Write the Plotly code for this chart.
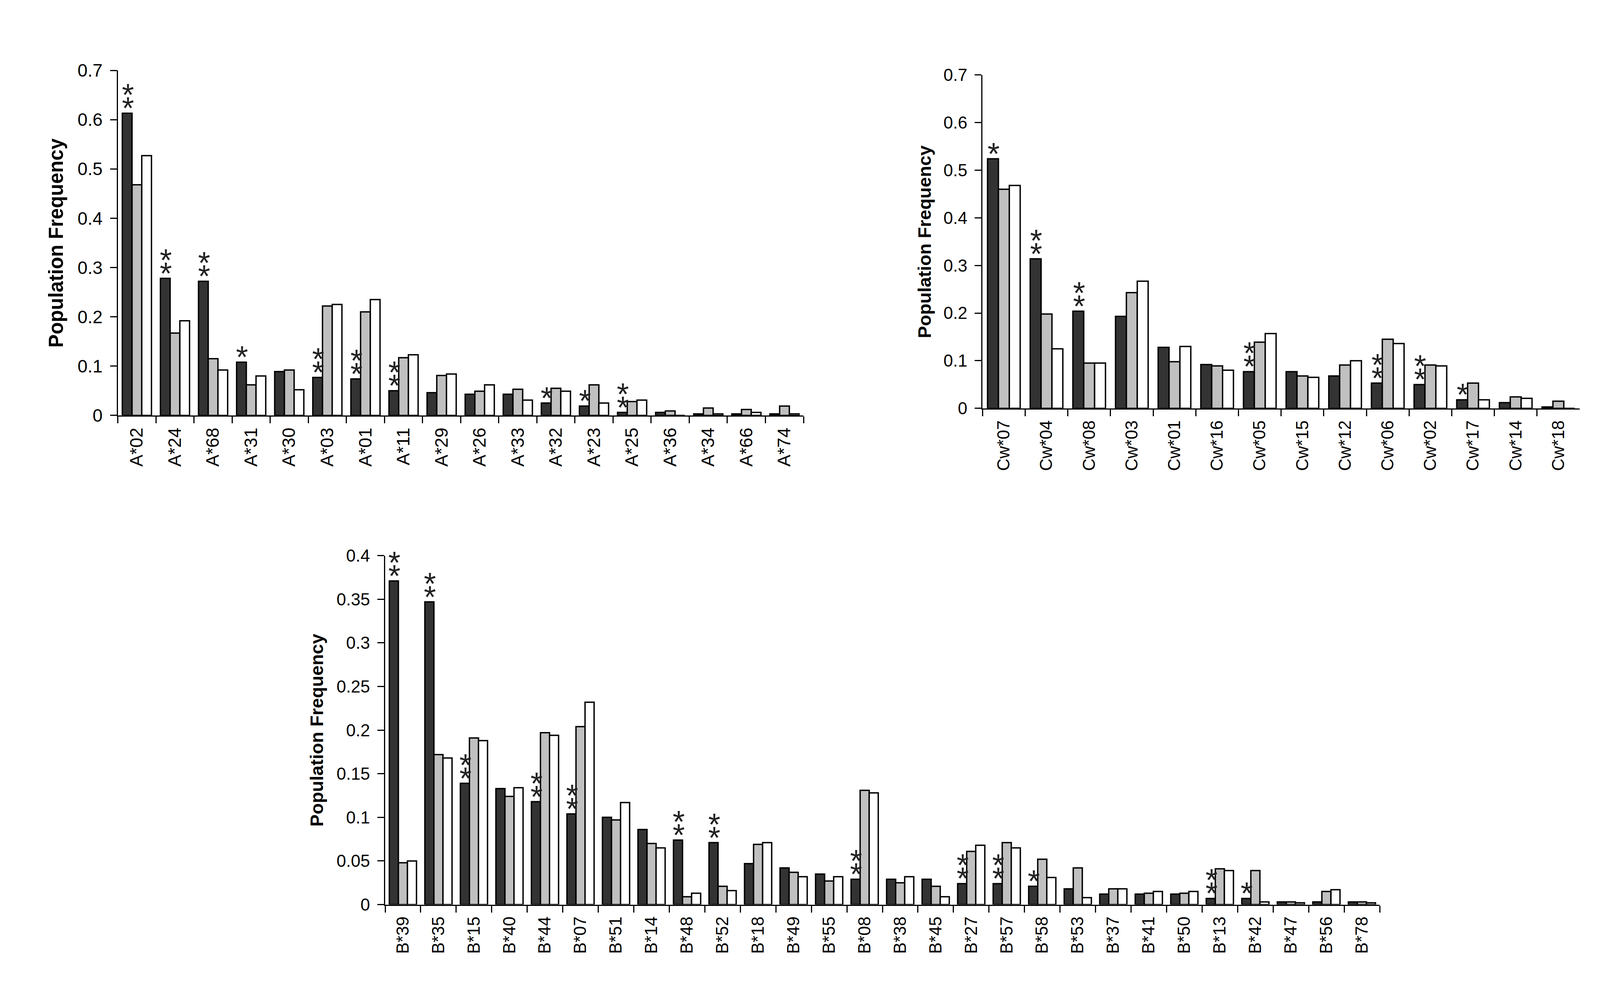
#!/usr/bin/env python3

import plotly.graph_objects as go

# HLA-A allele frequencies (three populations: dark, grey, white bars)
a_alleles = ["A*02", "A*24", "A*68", "A*31", "A*30", "A*03", "A*01", "A*11", "A*29",
             "A*26", "A*33", "A*32", "A*23", "A*25", "A*36", "A*34", "A*66", "A*74"]
a_pop1 = [0.613, 0.278, 0.272, 0.108, 0.089, 0.077, 0.074, 0.050, 0.046,
          0.043, 0.043, 0.025, 0.019, 0.006, 0.006, 0.003, 0.003, 0.003]
a_pop2 = [0.468, 0.167, 0.115, 0.062, 0.092, 0.222, 0.210, 0.117, 0.081,
          0.049, 0.053, 0.055, 0.062, 0.028, 0.009, 0.015, 0.012, 0.019]
a_pop3 = [0.527, 0.192, 0.092, 0.080, 0.052, 0.225, 0.235, 0.123, 0.084,
          0.062, 0.031, 0.049, 0.025, 0.031, 0.0, 0.003, 0.006, 0.003]
a_stars = [2, 2, 2, 1, 0, 2, 2, 2, 0, 0, 0, 1, 1, 2, 0, 0, 0, 0]

# HLA-C allele frequencies
c_alleles = ["Cw*07", "Cw*04", "Cw*08", "Cw*03", "Cw*01", "Cw*16", "Cw*05",
             "Cw*15", "Cw*12", "Cw*06", "Cw*02", "Cw*17", "Cw*14", "Cw*18"]
c_pop1 = [0.524, 0.314, 0.204, 0.193, 0.128, 0.092, 0.077,
          0.077, 0.068, 0.053, 0.050, 0.018, 0.012, 0.003]
c_pop2 = [0.460, 0.198, 0.095, 0.243, 0.098, 0.089, 0.139,
          0.068, 0.091, 0.145, 0.091, 0.053, 0.024, 0.015]
c_pop3 = [0.468, 0.125, 0.095, 0.267, 0.130, 0.080, 0.157,
          0.065, 0.100, 0.136, 0.089, 0.018, 0.021, 0.0]
c_stars = [1, 2, 2, 0, 0, 0, 2, 0, 0, 2, 2, 1, 0, 0]

# HLA-B allele frequencies
b_alleles = ["B*39", "B*35", "B*15", "B*40", "B*44", "B*07", "B*51", "B*14", "B*48",
             "B*52", "B*18", "B*49", "B*55", "B*08", "B*38", "B*45", "B*27", "B*57",
             "B*58", "B*53", "B*37", "B*41", "B*50", "B*13", "B*42", "B*47", "B*56", "B*78"]
b_pop1 = [0.371, 0.347, 0.139, 0.133, 0.118, 0.104, 0.100, 0.086, 0.074,
          0.071, 0.047, 0.042, 0.035, 0.029, 0.029, 0.029, 0.024, 0.024,
          0.021, 0.018, 0.012, 0.012, 0.012, 0.007, 0.007, 0.003, 0.003, 0.003]
b_pop2 = [0.048, 0.172, 0.191, 0.124, 0.197, 0.204, 0.097, 0.070, 0.009,
          0.021, 0.069, 0.037, 0.027, 0.131, 0.025, 0.021, 0.061, 0.071,
          0.052, 0.042, 0.018, 0.013, 0.013, 0.041, 0.039, 0.003, 0.015, 0.003]
b_pop3 = [0.050, 0.168, 0.188, 0.134, 0.194, 0.232, 0.117, 0.065, 0.013,
          0.016, 0.071, 0.032, 0.032, 0.128, 0.032, 0.009, 0.068, 0.065,
          0.031, 0.008, 0.018, 0.015, 0.015, 0.039, 0.003, 0.002, 0.017, 0.002]
b_stars = [2, 2, 2, 0, 2, 2, 0, 0, 2, 2, 0, 0, 0, 2, 0, 0, 2, 2,
           1, 0, 0, 0, 0, 2, 1, 0, 0, 0]

W, H = 4099, 2528
PAGE_PAD = 8  # default body margin of the html page
FONT = "Liberation Sans, Arial, sans-serif"
FILLS = ["#333333", "#c0c0c0", "#ffffff"]


def px_x(px):
    return (px - PAGE_PAD) / W


def px_y(py):
    # small empirical correction for the vertical placement seen in the screenshot
    fy = (py - 18.3) / 0.9865 - PAGE_PAD
    return 1 - fy / H


fig = go.Figure()

panels = [
    # alleles, series, stars, axis suffix, plot box in page pixels (x0, x1, top, bottom),
    # y max, dtick, tick font, title font, title centre (px)
    (a_alleles, [a_pop1, a_pop2, a_pop3], a_stars, "", (301.7, 2057, 173.3, 1062.5),
     0.7, 0.1, 46, 51, (144, 618)),
    (c_alleles, [c_pop1, c_pop2, c_pop3], c_stars, "2", (2515.3, 4044, 185.1, 1044.3),
     0.7, 0.1, 44, 47, (2367, 615)),
    (b_alleles, [b_pop1, b_pop2, b_pop3], b_stars, "3", (986, 3532, 1424, 2323.2),
     0.4, 0.05, 44, 47, (810.6, 1874)),
]

for alleles, series, stars, sfx, box, ymax, dtick, tfs, ttfs, tpos in panels:
    xa, ya = "x" + sfx, "y" + sfx
    for vals, fill in zip(series, FILLS):
        fig.add_trace(go.Bar(
            x=alleles, y=vals, xaxis=xa, yaxis=ya,
            marker=dict(color=fill, line=dict(color="black", width=3.5)),
            showlegend=False,
        ))

    axis_style = dict(showline=True, linecolor="black", linewidth=3, ticks="outside",
                      ticklen=17, tickwidth=3, tickcolor="black", showgrid=False,
                      zeroline=False, tickfont=dict(family=FONT, size=tfs, color="black"))
    fig.update_layout({
        "xaxis" + sfx: dict(domain=[px_x(box[0]), px_x(box[1])], anchor=ya,
                            type="category", tickson="boundaries", tickangle=-90,
                            range=[-0.5, len(alleles) - 0.5], ticklabelstandoff=10,
                            **axis_style),
        "yaxis" + sfx: dict(domain=[px_y(box[3]), px_y(box[2])], anchor=xa,
                            range=[0, ymax], dtick=dtick, ticklabelstandoff=10,
                            **axis_style),
    })

    # axis title
    fig.add_annotation(
        xref="paper", yref="paper", x=px_x(tpos[0]), y=px_y(tpos[1]),
        xanchor="center", yanchor="middle",
        text="<b>Population Frequency</b>", textangle=-90, showarrow=False,
        font=dict(family=FONT, size=ttfs, color="black"),
    )

    # significance asterisks stacked above the dark bars
    for i, n in enumerate(stars):
        for k in range(n):
            fig.add_annotation(
                xref=xa, yref=ya, x=i - 0.24, y=series[0][i],
                text="*", showarrow=False, xanchor="center", yanchor="middle",
                yshift=13 + 34 * k,
                font=dict(family=FONT, size=80, color="#222222"),
            )

fig.update_layout(
    width=W, height=H, autosize=False,
    margin=dict(l=0, r=0, t=0, b=0),
    paper_bgcolor="white", plot_bgcolor="white",
    barmode="group", bargap=0.235, bargroupgap=0,
)

fig.write_html("out.html")
